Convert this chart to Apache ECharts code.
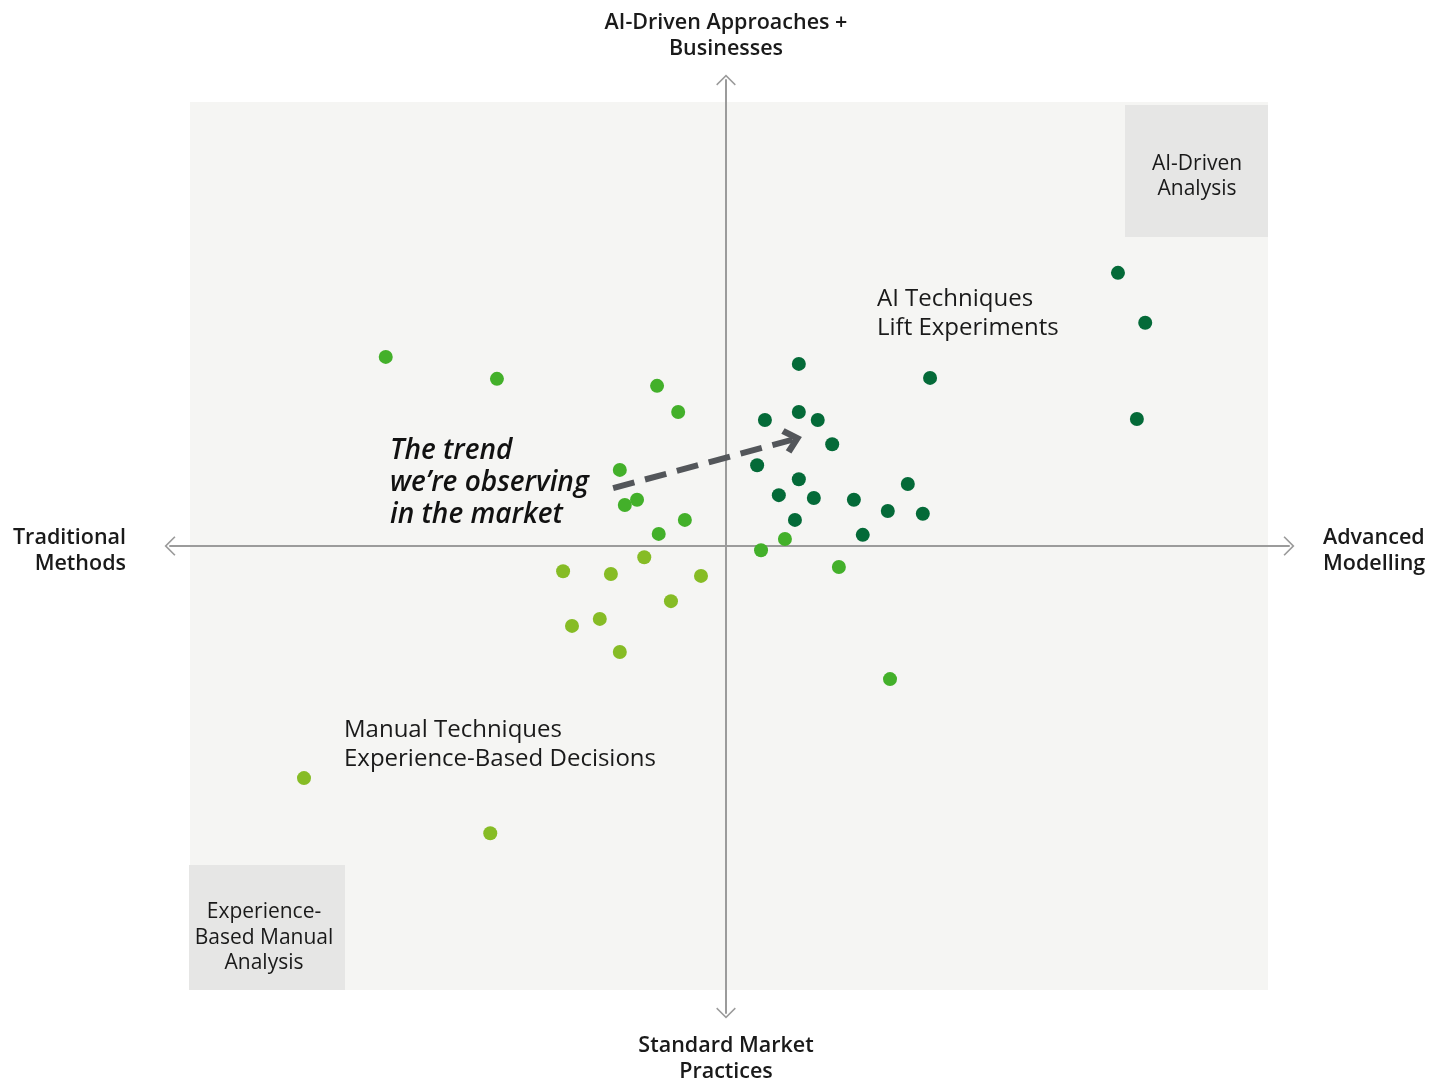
<!DOCTYPE html>
<html>
<head>
<meta charset="utf-8">
<title>Analytics maturity map</title>
<script src="https://cdn.jsdelivr.net/npm/echarts@6/dist/echarts.min.js"></script>
<style>
  html, body { margin: 0; padding: 0; background: #ffffff; }
  #chart { width: 1445px; height: 1081px; }
</style>
</head>
<body>
<div id="chart"></div>
<script>
// Position of each organisation: x = modelling sophistication, y = AI adoption
const aiDrivenPoints = [
  [7.05, 5.85], [7.54, 4.78], [7.39, 2.72], [3.67, 3.60], [1.31, 3.90],
  [1.31, 2.87], [0.70, 2.70], [1.65, 2.70], [1.91, 2.18], [0.56, 1.73],
  [1.31, 1.43], [0.95, 1.09], [1.58, 1.03], [1.24, 0.56], [2.30, 0.99],
  [3.27, 1.33], [2.91, 0.75], [3.54, 0.69], [2.46, 0.24]
];
const transitionPoints = [
  [-6.12, 4.05], [-4.12, 3.58], [-1.24, 3.43], [-0.86, 2.87], [-1.91, 1.63],
  [-1.82, 0.88], [-1.60, 0.99], [-0.74, 0.56], [-1.21, 0.26], [1.06, 0.15],
  [0.63, -0.09], [2.03, -0.45], [2.95, -2.85]
];
const manualPoints = [
  [-1.47, -0.24], [-2.93, -0.54], [-2.07, -0.60], [-0.45, -0.64], [-0.99, -1.18],
  [-2.27, -1.56], [-2.77, -1.71], [-1.91, -2.27], [-7.59, -4.97], [-4.24, -6.15]
];
// Trend arrow, from start to end in the same coordinates
const trendArrow = [[-2.03, 1.24], [1.20, 2.28]];

const axisNames = {
  top: 'AI-Driven Approaches +\nBusinesses',
  bottom: 'Standard Market\nPractices',
  left: 'Traditional\nMethods',
  right: 'Advanced\nModelling'
};
const cornerLabels = ['AI-Driven\nAnalysis', 'Experience-\nBased Manual\nAnalysis'];
const zoneLabels = ['AI Techniques\nLift Experiments', 'Manual Techniques\nExperience-Based Decisions'];
const trendLabel = 'The trend\nwe\u2019re observing\nin the market';

const FONT = '"Open Sans", "Noto Sans", sans-serif';
const chevron = 'path://M10,0 L20,10 L19,11.2 L10,2.4 L1,11.2 L0,10 Z';
const arrowHead = 'path://M13,0 L26,14 L21.5,18.5 L13,9 L4.5,18.5 L0,14 Z';

const chart = echarts.init(document.getElementById('chart'), null, { renderer: 'canvas' });

const axisCommon = {
  type: 'value',
  axisLabel: { show: false },
  axisTick: { show: false },
  splitLine: { show: false },
  z: 3,
  axisLine: {
    show: true,
    onZero: true,
    symbol: [chevron, chevron],
    symbolSize: [20, 11],
    lineStyle: { color: '#9b9b9b', width: 2 }
  }
};

function text(x, y, str, opts) {
  return {
    type: 'text',
    x: x, y: y, z: 1,
    style: Object.assign({
      text: str,
      font: '400 21px ' + FONT,
      fill: '#1a1a1a',
      lineHeight: 26
    }, opts)
  };
}

const AXIS_FONT = '600 21.5px ' + FONT;

const option = {
  animation: false,
  backgroundColor: '#ffffff',
  grid: { left: 170, right: 156, top: 80, bottom: 68, containLabel: false },
  xAxis: Object.assign({}, axisCommon, { min: -10, max: 10.126 }),
  yAxis: Object.assign({}, axisCommon, { min: -10, max: 9.98 }),
  graphic: [
    { type: 'rect', z: -10, shape: { x: 190, y: 102, width: 1078, height: 888 }, style: { fill: '#f5f5f3' } },
    { type: 'rect', z: -9, shape: { x: 1125, y: 105, width: 143, height: 132 }, style: { fill: '#e6e6e5' } },
    { type: 'rect', z: -9, shape: { x: 189, y: 865, width: 156, height: 125 }, style: { fill: '#e6e6e5' } },

    text(726, 36, axisNames.top, { font: AXIS_FONT, align: 'center', verticalAlign: 'middle' }),
    text(726, 1059, axisNames.bottom, { font: AXIS_FONT, align: 'center', verticalAlign: 'middle' }),
    text(126, 551, axisNames.left, { font: AXIS_FONT, align: 'right', verticalAlign: 'middle' }),
    text(1323, 551, axisNames.right, { font: AXIS_FONT, align: 'left', verticalAlign: 'middle' }),

    text(1197, 177, cornerLabels[0], { align: 'center', verticalAlign: 'middle', lineHeight: 25 }),
    text(264, 938, cornerLabels[1], { align: 'center', verticalAlign: 'middle', lineHeight: 25.5 }),

    text(877, 314, zoneLabels[0], { font: '400 24px ' + FONT, align: 'left', verticalAlign: 'middle', lineHeight: 29 }),
    text(344, 745, zoneLabels[1], { font: '400 24px ' + FONT, align: 'left', verticalAlign: 'middle', lineHeight: 29 }),

    text(390, 483, trendLabel, { font: 'italic 600 28px ' + FONT, fill: '#111111', align: 'left', verticalAlign: 'middle', lineHeight: 32 })
  ],
  series: [
    {
      name: 'Manual techniques',
      type: 'scatter',
      symbolSize: 14,
      itemStyle: { color: '#86bc25', opacity: 1 },
      data: manualPoints,
      z: 4
    },
    {
      name: 'Transitioning',
      type: 'scatter',
      symbolSize: 14,
      itemStyle: { color: '#43b02a', opacity: 1 },
      data: transitionPoints,
      z: 4
    },
    {
      name: 'AI techniques',
      type: 'scatter',
      symbolSize: 14,
      itemStyle: { color: '#046a38', opacity: 1 },
      data: aiDrivenPoints,
      z: 4,
      markLine: {
        silent: true,
        z: 5,
        symbol: ['none', arrowHead],
        symbolSize: [26, 19],
        label: { show: false },
        lineStyle: { color: '#53565a', width: 6, type: [22, 11], opacity: 1 },
        data: [[
          { coord: trendArrow[0] },
          { coord: trendArrow[1] }
        ]]
      }
    }
  ]
};

chart.setOption(option);
</script>
</body>
</html>
